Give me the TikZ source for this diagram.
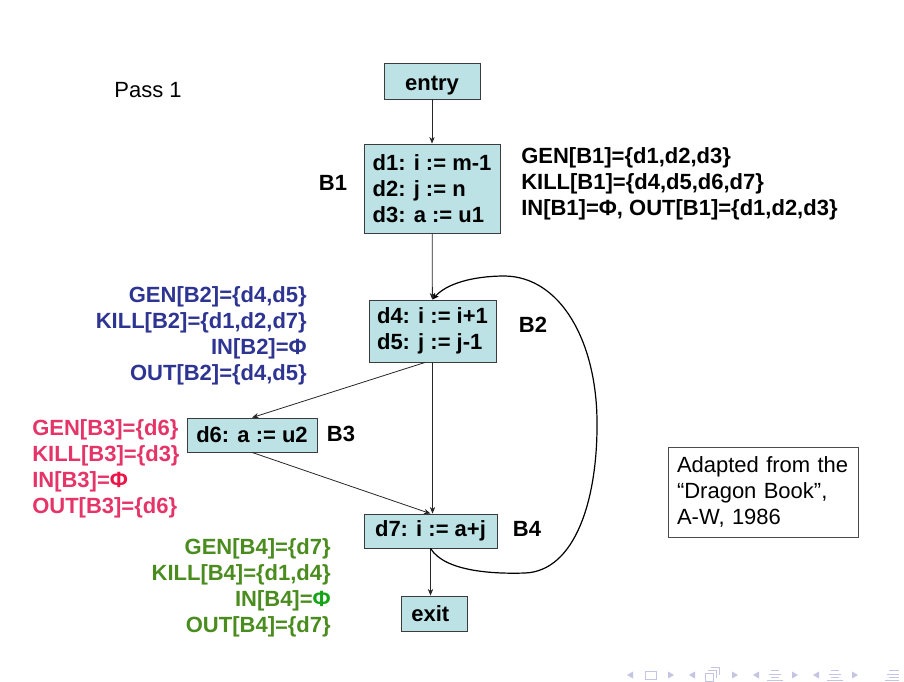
\documentclass[tikz,border=0pt]{standalone}
\usepackage{fontspec}
\setmainfont{Liberation Sans}
\usetikzlibrary{arrows.meta}
\definecolor{boxfill}{RGB}{188,226,229}
\definecolor{boxline}{RGB}{60,60,60}
\definecolor{bluetxt}{RGB}{46,52,146}
\definecolor{pinktxt}{RGB}{228,52,104}
\definecolor{pinkphi}{RGB}{236,20,70}
\definecolor{greentxt}{RGB}{74,140,30}
\definecolor{greenphi}{RGB}{20,165,20}
\definecolor{navcol}{RGB}{196,196,228}
\tikzset{
  blk/.style={draw=boxline, line width=0.6pt, fill=boxfill, font=\fontsize{16.5}{19.5}\selectfont\bfseries, align=left, inner sep=2pt},
  lbl/.style={font=\fontsize{16.5}{19.5}\selectfont\bfseries},
  info/.style={font=\fontsize{16.5}{19.5}\selectfont\bfseries, inner sep=0pt},
  edge/.style={draw=black!85, line width=0.6pt, -{Stealth[length=5pt,width=4pt]}},
  loopedge/.style={draw=black, line width=0.9pt, -{Stealth[length=5pt,width=4pt]}},
  nav/.style={navcol, line width=0.6pt}
}
\begin{document}
\begin{tikzpicture}[x=0.75pt,y=-0.75pt]
\useasboundingbox (0,0) rectangle (904,682);

\node[font=\fontsize{16.5}{19.5}\selectfont] (pass) at (148,90) {Pass 1};

\node[blk, minimum width=72pt, minimum height=27pt, text height=14pt, text depth=0pt] (entry) at (432,81) {entry};
\node[blk, minimum width=102pt, minimum height=66.75pt] (b1) at (432,188.5) {d1: i := m-1\\d2: j := n\\d3: a := u1};
\node[blk, minimum width=95.25pt, minimum height=46.5pt] (b2) at (432.5,331) {d4: i := i+1\\d5: j := j-1};
\node[blk, minimum width=97.5pt, minimum height=25.5pt] (b3) at (252,435) {d6: a := u2};
\node[blk, minimum width=99.75pt, minimum height=25.5pt] (b4) at (430.5,531) {d7: i := a+j};
\node[blk, minimum width=49.5pt, minimum height=26.25pt] (exit) at (434,613.5) {exit\,\,};

\node[lbl] (l1) at (333,183) {B1};
\node[lbl] (l2) at (533,325) {B2};
\node[lbl] (l3) at (341,434) {B3};
\node[lbl] (l4) at (527,529) {B4};

\node[info, anchor=west, align=left] (i1) at (521,183.5) {GEN[B1]=\{d1,d2,d3\}\\KILL[B1]=\{d4,d5,d6,d7\}\\IN[B1]=Φ, OUT[B1]=\{d1,d2,d3\}};
\node[info, anchor=east, align=right, text=bluetxt] (i2) at (307,335.5) {GEN[B2]=\{d4,d5\}\\KILL[B2]=\{d1,d2,d7\}\\IN[B2]=Φ\\OUT[B2]=\{d4,d5\}};
\node[info, anchor=west, align=left, text=pinktxt] (i3) at (32,469) {GEN[B3]=\{d6\}\\KILL[B3]=\{d3\}\\IN[B3]={\color{pinkphi}Φ}\\OUT[B3]=\{d6\}};
\node[info, anchor=east, align=right, text=greentxt] (i4) at (331,588) {GEN[B4]=\{d7\}\\KILL[B4]=\{d1,d4\}\\IN[B4]={\color{greenphi}Φ}\\OUT[B4]=\{d7\}};

\node[draw=black!70, line width=0.6pt, fill=white, font=\fontsize{16.5}{19.5}\selectfont, align=left, text width=129pt, inner xsep=6.75pt, minimum height=67.5pt] (note) at (763,492) {Adapted from the\\“Dragon Book”,\\A-W, 1986};

\draw[edge] (entry) -- (b1);
\draw[edge] (b1) -- (b2);
\draw[edge] ([xshift=-5.5pt]b2.south) -- (b3.north);
\draw[edge] (b2.south) -- (b2.south |- b4.north);
\draw[edge] (b3.south) -- (b4.north);
\draw[edge] (b4.south) -- (b4.south |- exit.north);
\draw[loopedge] (b4.south) .. controls (445,572) and (495,574) .. (525,573)
  .. controls (575,571) and (598,500) .. (597,420)
  .. controls (596,340) and (560,277) .. (505,276)
  .. controls (472,276) and (446,284) .. (b2.north);

% navigation symbols
\fill[navcol] (627,675) -- (633,671.5) -- (633,678.5) -- cycle;
\draw[nav] (645,671) rectangle (656,679);
\fill[navcol] (674,675) -- (668,671.5) -- (668,678.5) -- cycle;
\fill[navcol] (689,675) -- (695,671.5) -- (695,678.5) -- cycle;
\draw[nav] (705,673) rectangle (713,681);
\draw[nav] (708,670) -- (716,670) -- (716,678);
\draw[nav] (711,667) -- (719,667) -- (719,675);
\fill[navcol] (738,675) -- (732,671.5) -- (732,678.5) -- cycle;
\fill[navcol] (753,675) -- (759,671.5) -- (759,678.5) -- cycle;
\draw[nav] (771,670.5) -- (779,670.5) (769,674) -- (781,674) (771,677.5) -- (779,677.5) (767,680) -- (783,680);
\fill[navcol] (798,675) -- (792,671.5) -- (792,678.5) -- cycle;
\fill[navcol] (813,675) -- (819,671.5) -- (819,678.5) -- cycle;
\draw[nav] (831,670.5) -- (839,670.5) (829,674) -- (841,674) (831,677.5) -- (839,677.5) (827,680) -- (843,680);
\fill[navcol] (858,675) -- (852,671.5) -- (852,678.5) -- cycle;
\draw[nav] (889,670.5) -- (899,670.5) (887,674) -- (899,674) (889,677.5) -- (899,677.5) (885,680) -- (899,680);
\end{tikzpicture}
\end{document}
